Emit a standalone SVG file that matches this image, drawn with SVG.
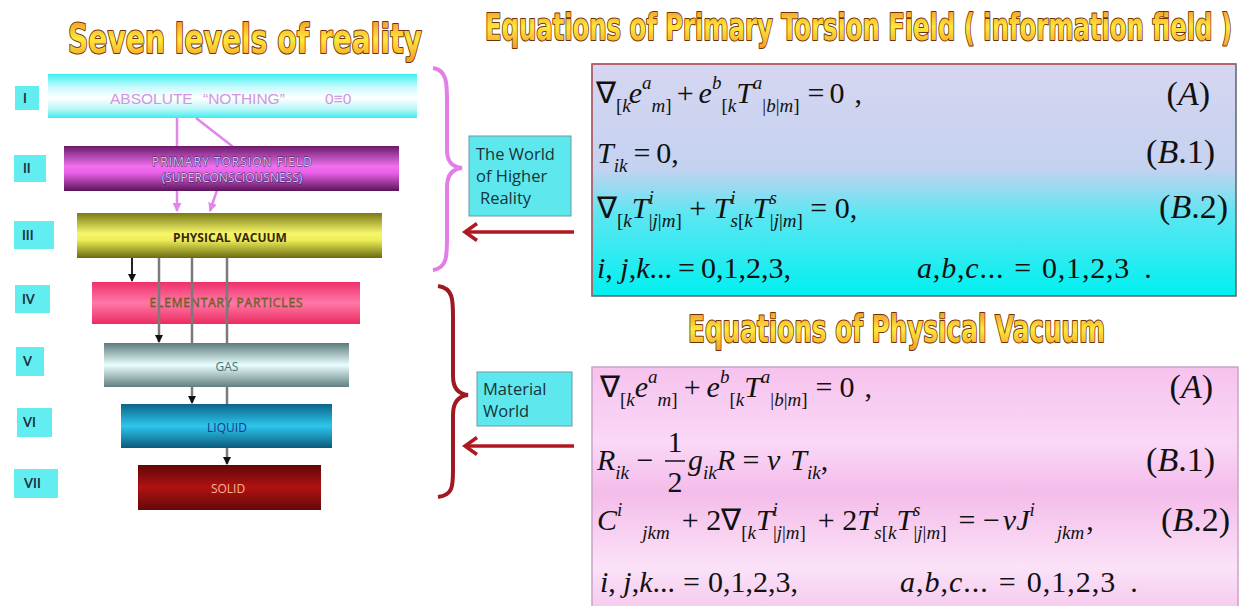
<svg xmlns="http://www.w3.org/2000/svg" width="1246" height="606" viewBox="0 0 1246 606">
<defs>
<linearGradient id="gTitle" x1="0" y1="0" x2="0" y2="1"><stop offset="0" stop-color="#f08a28"/><stop offset="0.5" stop-color="#ffe83a"/><stop offset="1" stop-color="#f29a2a"/></linearGradient>
<linearGradient id="g1" x1="0" y1="0" x2="0" y2="1"><stop offset="0" stop-color="#3ef0f2"/><stop offset="0.3" stop-color="#c8fafc"/><stop offset="0.55" stop-color="#ffffff"/><stop offset="0.8" stop-color="#b8f6f8"/><stop offset="1" stop-color="#3ceef0"/></linearGradient>
<linearGradient id="g2" x1="0" y1="0" x2="0" y2="1"><stop offset="0" stop-color="#6a1a6a"/><stop offset="0.45" stop-color="#f070f0"/><stop offset="0.6" stop-color="#e860e8"/><stop offset="1" stop-color="#5a145a"/></linearGradient>
<linearGradient id="g3" x1="0" y1="0" x2="0" y2="1"><stop offset="0" stop-color="#7a7a18"/><stop offset="0.45" stop-color="#f6f66a"/><stop offset="0.6" stop-color="#eeee58"/><stop offset="1" stop-color="#6a6a10"/></linearGradient>
<linearGradient id="g4" x1="0" y1="0" x2="0" y2="1"><stop offset="0" stop-color="#f0306a"/><stop offset="0.5" stop-color="#ff78a8"/><stop offset="1" stop-color="#ec2c60"/></linearGradient>
<linearGradient id="g5" x1="0" y1="0" x2="0" y2="1"><stop offset="0" stop-color="#5c7a7a"/><stop offset="0.5" stop-color="#eafefe"/><stop offset="1" stop-color="#627e80"/></linearGradient>
<linearGradient id="g6" x1="0" y1="0" x2="0" y2="1"><stop offset="0" stop-color="#0a6488"/><stop offset="0.5" stop-color="#2ec6ee"/><stop offset="1" stop-color="#0a5a7c"/></linearGradient>
<linearGradient id="g7" x1="0" y1="0" x2="0" y2="1"><stop offset="0" stop-color="#640606"/><stop offset="0.5" stop-color="#b01212"/><stop offset="1" stop-color="#640808"/></linearGradient>
<linearGradient id="gBox1" x1="0" y1="0" x2="0" y2="1"><stop offset="0" stop-color="#d6d6f0"/><stop offset="0.45" stop-color="#c4d2f0"/><stop offset="0.65" stop-color="#5ce6f2"/><stop offset="1" stop-color="#00f0f0"/></linearGradient>
<linearGradient id="gBox2" x1="0" y1="0" x2="0" y2="1"><stop offset="0" stop-color="#f6c2ee"/><stop offset="0.3" stop-color="#fad8f6"/><stop offset="0.5" stop-color="#f4bcea"/><stop offset="0.8" stop-color="#fbe2f7"/><stop offset="1" stop-color="#f4c6ee"/></linearGradient>
<marker id="mBlack" markerWidth="8" markerHeight="8" refX="7" refY="4" orient="auto" markerUnits="userSpaceOnUse"><path d="M0,0 L8,4 L0,8 Z" fill="#111"/></marker>
<marker id="mPink" markerWidth="9" markerHeight="9" refX="8" refY="4.5" orient="auto" markerUnits="userSpaceOnUse"><path d="M0,0 L9,4.5 L0,9 Z" fill="#e486e8"/></marker>
<style>
.ttl{font-family:"DejaVu Sans Condensed","DejaVu Sans","Liberation Sans",sans-serif;font-weight:bold;fill:url(#gTitle);stroke:#6e3206;stroke-width:2;paint-order:stroke;stroke-linejoin:round}
.rn rect{fill:#62eef0}
.rn text{font-family:Lato,"Liberation Sans",sans-serif;font-weight:bold;font-size:13px;fill:#1c3240}
.bl{font-family:"Open Sans","Liberation Sans",sans-serif;font-size:12px;text-anchor:middle}
.lab rect{fill:#5ee8ee;stroke:#6a9aa0;stroke-width:1}
.lab text{font-family:"Open Sans","Liberation Sans",sans-serif;font-size:16.5px;fill:#16343a}
.eq{font-family:"Liberation Serif","Times New Roman",serif;font-size:30px;fill:#111}
.tag{font-family:"Liberation Serif","Times New Roman",serif;font-size:34px;fill:#111;text-anchor:end}
.i{font-style:italic}
.s{font-size:19px}
.gray{stroke:#7a7a7a;stroke-width:2.5;fill:none}
.blk{stroke:#222;stroke-width:2;fill:none}
.pink{stroke:#e486e8;stroke-width:2.5;fill:none}
.red{stroke:#b01820;stroke-width:3.5;fill:none}
</style>
</defs>
<rect width="1246" height="606" fill="#ffffff"/>

<g id="titles">
<text class="ttl" x="68" y="53" font-size="40" textLength="354" lengthAdjust="spacingAndGlyphs">Seven levels of reality</text>
<text class="ttl" x="485" y="40" font-size="38" textLength="747" lengthAdjust="spacingAndGlyphs">Equations  of Primary Torsion Field ( information field )</text>
<text class="ttl" x="688" y="342" font-size="37" textLength="417" lengthAdjust="spacingAndGlyphs">Equations  of Physical Vacuum</text>
</g>

<g id="level1">
<g class="rn"><rect x="15" y="86" width="24" height="24"/><text x="23" y="103">I</text></g>
<rect x="48" y="74" width="369" height="44" fill="url(#g1)"/>
<text x="110" y="104" font-size="15.5" fill="#d494e0" style="font-family:'Liberation Sans',sans-serif">ABSOLUTE<tspan x="203">“NOTHING”</tspan><tspan x="325">0≡0</tspan></text>
</g>

<g id="level4">
<g class="rn"><rect x="15" y="285" width="35" height="28"/><text x="22" y="304">IV</text></g>
<rect x="92" y="282" width="268" height="42" fill="url(#g4)"/>
<text class="bl" x="226" y="307" fill="#8c8a2c" stroke="#5a3a20" stroke-width="0.4" font-size="12.5" textLength="153" lengthAdjust="spacing">ELEMENTARY  PARTICLES</text>
</g>

<g id="connectors">
<line class="pink" x1="177" y1="118" x2="177" y2="211" marker-end="url(#mPink)"/>
<polyline class="pink" points="196,118 232,146 210,211" marker-end="url(#mPink)"/>
<line class="blk" x1="132" y1="258" x2="132" y2="281" marker-end="url(#mBlack)"/>
<line class="gray" x1="159" y1="258" x2="159" y2="342" marker-end="url(#mBlack)"/>
<line class="gray" x1="192" y1="258" x2="192" y2="403" marker-end="url(#mBlack)"/>
<line class="gray" x1="227" y1="258" x2="227" y2="464" marker-end="url(#mBlack)"/>
<path d="M433,68 C447,70 447,84 447,100 L447,150 C447,162 452,167 462,168 C452,169 447,175 447,187 L447,238 C447,256 447,268 433,270" stroke="#e27ee8" stroke-width="4" fill="none"/>
<path d="M438,286 C453,288 453,300 453,316 L453,376 C453,388 458,394 468,395 C458,396 453,402 453,415 L453,470 C453,486 453,495 438,497" stroke="#a01820" stroke-width="4" fill="none"/>
<line class="red" x1="574" y1="232" x2="466" y2="232"/>
<polyline class="red" points="477,223.5 465,232 477,240.5"/>
<line class="red" x1="574" y1="446" x2="466" y2="446"/>
<polyline class="red" points="477,437.5 465,446 477,454.5"/>
</g>

<g id="level2">
<g class="rn"><rect x="14" y="155" width="32" height="27"/><text x="23" y="173">II</text></g>
<rect x="64" y="146" width="335" height="45" fill="url(#g2)"/>
<text class="bl" x="232" y="166" font-size="12.5" fill="#d4c8ff" stroke="#1e1e48" stroke-width="0.8" paint-order="stroke" textLength="160" lengthAdjust="spacing">PRIMARY  TORSION FIELD</text>
<text class="bl" x="232" y="182" font-size="12.5" fill="#d4c8ff" stroke="#1e1e48" stroke-width="0.8" paint-order="stroke">(SUPERCONSCIOUSNESS)</text>
</g>

<g id="level3">
<g class="rn"><rect x="14" y="221" width="40" height="28"/><text x="22" y="240">III</text></g>
<rect x="77" y="213" width="305" height="45" fill="url(#g3)"/>
<text class="bl" x="230" y="242" font-size="12.5" font-weight="bold" fill="#3a2610">PHYSICAL VACUUM</text>
</g>

<g id="level5">
<g class="rn"><rect x="16" y="347" width="28" height="29"/><text x="23" y="366">V</text></g>
<rect x="104" y="343" width="245" height="44" fill="url(#g5)"/>
<text class="bl" x="227" y="371" font-size="14" fill="#3a7480">GAS</text>
</g>

<g id="level6">
<g class="rn"><rect x="17" y="408" width="35" height="29"/><text x="23" y="427">VI</text></g>
<rect x="121" y="404" width="211" height="44" fill="url(#g6)"/>
<text class="bl" x="227" y="432" font-size="14" fill="#16388a">LIQUID</text>
</g>

<g id="level7">
<g class="rn"><rect x="14" y="469" width="44" height="29"/><text x="24" y="488">VII</text></g>
<rect x="138" y="465" width="183" height="45" fill="url(#g7)"/>
<text class="bl" x="228" y="493" font-size="14" fill="#f4b490">SOLID</text>
</g>

<g id="label-higher" class="lab">
<rect x="469" y="136" width="102" height="80"/>
<text x="476" y="160">The World</text>
<text x="476" y="182">of Higher</text>
<text x="480" y="204">Reality</text>
</g>

<g id="label-material" class="lab">
<rect x="477" y="372" width="95" height="54"/>
<text x="483" y="395">Material</text>
<text x="483" y="417">World</text>
</g>

<g id="eq-torsion">
<rect x="592" y="64" width="644" height="232" fill="url(#gBox1)" stroke="#5a6470" stroke-width="1.5"/>
<line x1="592" y1="64" x2="1236" y2="64" stroke="#c85a6a" stroke-width="1.5"/>
<line x1="592" y1="64" x2="592" y2="296" stroke="#c0606a" stroke-width="1.5"/>
<text class="eq" x="596" y="103">∇<tspan class="s" dy="9">[</tspan><tspan class="s i">k</tspan><tspan class="i" dy="-9" dx="-2">e</tspan><tspan class="s i" dy="-14">a</tspan><tspan class="s i" dy="23">m</tspan><tspan class="s">]</tspan><tspan dy="-9" dx="5">+</tspan><tspan class="i" dx="5">e</tspan><tspan class="s i" dy="-14">b</tspan><tspan class="s" dy="23">[</tspan><tspan class="s i">k</tspan><tspan class="i" dy="-9">T</tspan><tspan class="s i" dy="-14">a</tspan><tspan class="s" dy="23">|</tspan><tspan class="s i">b</tspan><tspan class="s">|</tspan><tspan class="s i">m</tspan><tspan class="s">]</tspan><tspan dy="-9" dx="8">=</tspan><tspan dx="5">0</tspan><tspan dx="10">,</tspan></text>
<text class="tag" x="1210" y="105">(<tspan class="i">A</tspan>)</text>
<text class="eq" x="597" y="163"><tspan class="i">T</tspan><tspan class="s i" dy="9">ik</tspan><tspan dy="-9" dx="6">=</tspan><tspan dx="6">0,</tspan></text>
<text class="tag" x="1215" y="163">(<tspan class="i">B</tspan>.1)</text>
<text class="eq" x="597" y="218">∇<tspan class="s" dy="9">[</tspan><tspan class="s i">k</tspan><tspan class="i" dy="-9">T</tspan><tspan class="s i" dy="-14">i</tspan><tspan class="s" dy="23" dx="-5">|</tspan><tspan class="s i">j</tspan><tspan class="s">|</tspan><tspan class="s i">m</tspan><tspan class="s">]</tspan><tspan dy="-9"> + </tspan><tspan class="i">T</tspan><tspan class="s i" dy="-14">i</tspan><tspan class="s i" dy="23" dx="-5">s</tspan><tspan class="s">[</tspan><tspan class="s i">k</tspan><tspan class="i" dy="-9">T</tspan><tspan class="s i" dy="-14">s</tspan><tspan class="s" dy="23" dx="-7">|</tspan><tspan class="s i">j</tspan><tspan class="s">|</tspan><tspan class="s i">m</tspan><tspan class="s">]</tspan><tspan dy="-9"> = 0,</tspan></text>
<text class="tag" x="1228" y="218">(<tspan class="i">B</tspan>.2)</text>
<text class="eq" x="597" y="278" font-size="31"><tspan class="i">i</tspan>, <tspan class="i">j</tspan>,<tspan class="i">k</tspan>...<tspan dx="6">=</tspan><tspan dx="6">0,1,2,3,</tspan></text>
<text class="eq" x="917" y="278" font-size="31" letter-spacing="0.8"><tspan class="i">a</tspan>,<tspan class="i">b</tspan>,<tspan class="i">c</tspan>...<tspan dx="10">=</tspan><tspan dx="10">0,1,2,3</tspan><tspan dx="14">.</tspan></text>
</g>

<g id="eq-vacuum">
<rect x="592" y="367" width="646" height="250" fill="url(#gBox2)" stroke="#c8a4c8" stroke-width="1.5"/>
<text class="eq" x="600" y="397">∇<tspan class="s" dy="9">[</tspan><tspan class="s i">k</tspan><tspan class="i" dy="-9">e</tspan><tspan class="s i" dy="-14">a</tspan><tspan class="s i" dy="23">m</tspan><tspan class="s">]</tspan><tspan dy="-9" dx="6">+</tspan><tspan class="i" dx="6">e</tspan><tspan class="s i" dy="-14">b</tspan><tspan class="s" dy="23">[</tspan><tspan class="s i">k</tspan><tspan class="i" dy="-9">T</tspan><tspan class="s i" dy="-14">a</tspan><tspan class="s" dy="23">|</tspan><tspan class="s i">b</tspan><tspan class="s">|</tspan><tspan class="s i">m</tspan><tspan class="s">]</tspan><tspan dy="-9" dx="8">=</tspan><tspan dx="7">0</tspan><tspan dx="10">,</tspan></text>
<text class="tag" x="1213" y="398">(<tspan class="i">A</tspan>)</text>
<text class="eq" x="597" y="470"><tspan class="i">R</tspan><tspan class="s i" dy="9">ik</tspan><tspan dy="-9"> − </tspan></text>
<text class="eq" x="675" y="452" text-anchor="middle">1</text>
<line x1="665" y1="461" x2="685" y2="461" stroke="#111" stroke-width="1.5"/>
<text class="eq" x="675" y="492" text-anchor="middle">2</text>
<text class="eq" x="688" y="470"><tspan class="i">g</tspan><tspan class="s i" dy="9">ik</tspan><tspan class="i" dy="-9">R</tspan> = <tspan class="i">ν</tspan><tspan class="i" dx="10">T</tspan><tspan class="s i" dy="9">ik</tspan><tspan dy="-9">,</tspan></text>
<text class="tag" x="1215" y="471">(<tspan class="i">B</tspan>.1)</text>
<text class="eq" x="597" y="530" font-size="31.5"><tspan class="i">C</tspan><tspan class="s i" dy="-14">i</tspan><tspan class="s i" dy="23" dx="20">jkm</tspan><tspan dy="-9" dx="12">+ 2∇</tspan><tspan class="s" dy="9">[</tspan><tspan class="s i">k</tspan><tspan class="i" dy="-9">T</tspan><tspan class="s i" dy="-14">i</tspan><tspan class="s" dy="23" dx="-5">|</tspan><tspan class="s i">j</tspan><tspan class="s">|</tspan><tspan class="s i">m</tspan><tspan class="s">]</tspan><tspan dy="-9" dx="12">+ 2</tspan><tspan class="i">T</tspan><tspan class="s i" dy="-14">i</tspan><tspan class="s i" dy="23" dx="-5">s</tspan><tspan class="s">[</tspan><tspan class="s i">k</tspan><tspan class="i" dy="-9">T</tspan><tspan class="s i" dy="-14">s</tspan><tspan class="s" dy="23" dx="-7">|</tspan><tspan class="s i">j</tspan><tspan class="s">|</tspan><tspan class="s i">m</tspan><tspan class="s">]</tspan><tspan dy="-9" dx="12">= −</tspan><tspan class="i" dx="3">νJ</tspan><tspan class="s i" dy="-14">i</tspan><tspan class="s i" dy="23" dx="22">jkm</tspan><tspan dy="-9" dx="2">,</tspan></text>
<text class="tag" x="1230" y="531">(<tspan class="i">B</tspan>.2)</text>
<text class="eq" x="600" y="592" font-size="31"><tspan class="i">i</tspan>, <tspan class="i">j</tspan>,<tspan class="i">k</tspan>...<tspan dx="8">=</tspan><tspan dx="8">0,1,2,3,</tspan></text>
<text class="eq" x="900" y="592" font-size="31" letter-spacing="1"><tspan class="i">a</tspan>,<tspan class="i">b</tspan>,<tspan class="i">c</tspan>...<tspan dx="10">=</tspan><tspan dx="10">0,1,2,3</tspan><tspan dx="14">.</tspan></text>
</g>
</svg>
